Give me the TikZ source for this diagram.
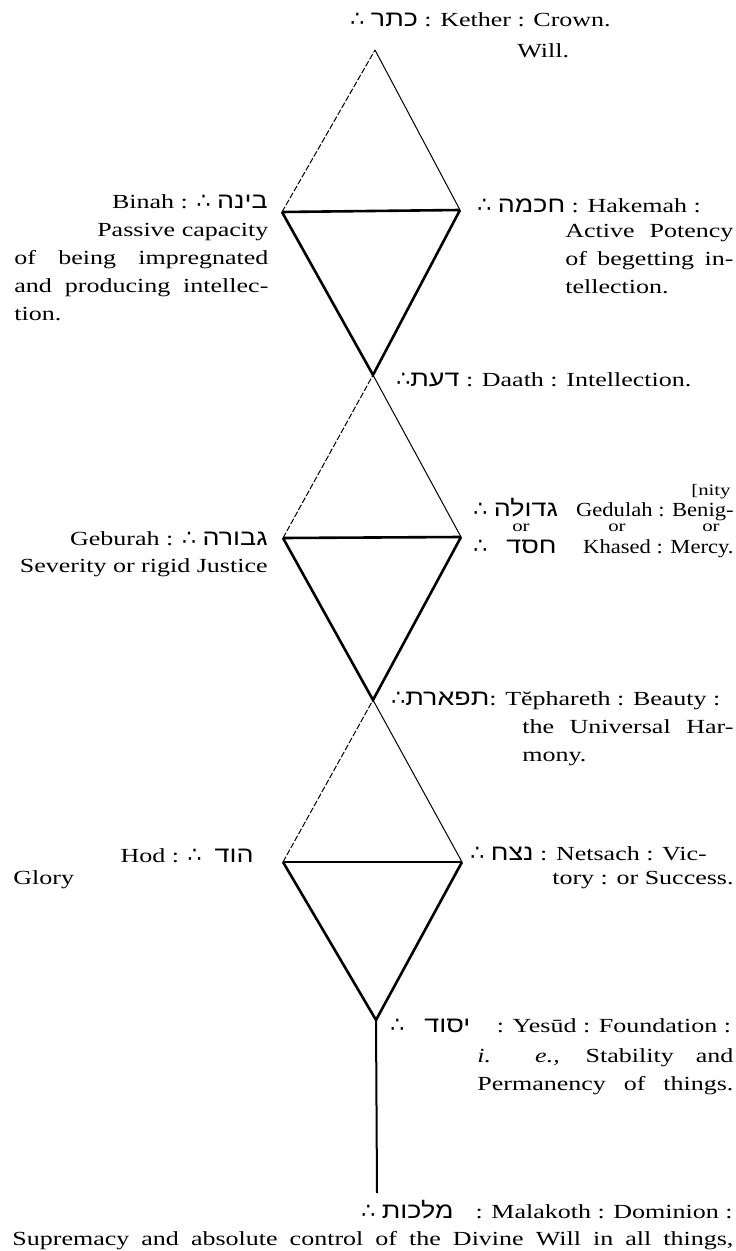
\documentclass[tikz,border=0pt]{standalone}
\usepackage{fontspec}
\setmainfont[FakeStretch=1.3]{Liberation Serif}
\newfontfamily\narrowfont[FakeStretch=1.13]{Liberation Serif}
\newfontfamily\hebfont[Script=Hebrew,FakeStretch=1.2,Scale=1.12]{Liberation Sans}
\newfontfamily\dotsfont[Scale=1.1]{DejaVu Sans}
\TeXXeTstate=1
\usetikzlibrary{positioning}

\newcommand{\heb}[1]{{\hebfont\beginR #1\endR}}
\newcommand{\tf}{{\dotsfont ∴}}

\begin{document}
\begin{tikzpicture}[
    x=0.5pt, y=-0.5pt,
    font=\fontsize{10}{14}\selectfont,
    every node/.style={inner sep=0pt},
    heavy/.style={line width=1.3pt, line join=miter},
    faint/.style={line width=0.5pt},
    faintdash/.style={line width=0.5pt, dash pattern=on 3pt off 1pt},
    stem/.style={line width=1pt},
    lbl/.style={anchor=base west},
    lblr/.style={anchor=base east},
    small/.style={anchor=base, font=\fontsize{8}{10}\selectfont},
]
\useasboundingbox (0,0) rectangle (735,1251);

% ── Sephiroth points ──
\coordinate (kether)    at (375,50);
\coordinate (binah)     at (282,212);
\coordinate (chokmah)   at (460,210);
\coordinate (daath)     at (373,375);
\coordinate (geburah)   at (283,538);
\coordinate (chesed)    at (461,537);
\coordinate (tiphareth) at (373,700);
\coordinate (hod)       at (283,862);
\coordinate (netsach)   at (462,862);
\coordinate (yesod)     at (376,1020);
\coordinate (malkuth)   at (377,1193);

% ── Triangles ──
\draw[faintdash] (binah) -- (kether);
\draw[faint] (kether) -- (chokmah);
\draw[heavy] (binah) -- (chokmah);
\draw[heavy] (binah) -- (daath) -- (chokmah);

\draw[faintdash] (geburah) -- (daath);
\draw[faint] (daath) -- (chesed);
\draw[heavy] (geburah) -- (chesed);
\draw[heavy] (geburah) -- (tiphareth) -- (chesed);

\draw[faintdash] (hod) -- (tiphareth);
\draw[faint] (tiphareth) -- (netsach);
\draw[heavy] (hod) -- (netsach);
\draw[heavy] (hod) -- (yesod) -- (netsach);

\draw[stem] (yesod) -- (malkuth);

% ── Kether ──
\node[lbl] (ketherlbl) at (350,27) {\tf\ \heb{כתר} : Kether : Crown.};
\node[lbl] (willlbl) at (517,58) {Will.};

% ── Binah / Hakemah ──
\node[lblr] (binahlbl) at (268,209) {Binah : \tf\ \heb{בינה}};
\node[lbl] (binahtxt) at (14,237) {\parbox[t]{127pt}{\hfill Passive capacity\linebreak
  of being impregnated\linebreak and producing intellec-\linebreak tion.}};
\node[lbl] (chokmahlbl) at (477,213) {\tf\ \heb{חכמה} : Hakemah :};
\node[lbl] (chokmahtxt) at (565,238) {\parbox[t]{84pt}{Active Potency\linebreak
  of begetting in-\linebreak tellection.}};

% ── Daath ──
\node[lbl] (daathlbl) at (396,386) {\tf\heb{דעת} : Daath : Intellection.};

% ── Geburah / Gedulah ──
\node[lblr] (geburahlbl) at (268,545) {Geburah : \tf\ \heb{גבורה}};
\node[lblr] (geburahtxt) at (268,572) {Severity or rigid Justice};
\node[small, anchor=base east] (nitylbl) at (731,495) {[nity};
\node[lbl] (gedulahheb) at (473,516) {\tf\ \heb{גדולה}};
\node[lblr] (gedulahlbl) at (734,516) {\narrowfont Gedulah : Benig-};
\node[small] (or1) at (521,531) {or};
\node[small] (or2) at (617,531) {or};
\node[small] (or3) at (711,531) {or};
\node[lbl] (chesedtf) at (473,553) {\tf};
\node[lblr] (chesedheb) at (557,553) {\heb{חסד}};
\node[lblr] (chesedlbl) at (734,553) {\narrowfont Khased : Mercy.};

% ── Tiphareth ──
\node[lbl] (tipharethlbl) at (391,705) {\tf\heb{תפארת}: Tĕphareth : Beauty :};
\node[lbl] (tipharethtxt) at (522,733) {\parbox[t]{105.5pt}{the Universal Har-\linebreak mony.}};

% ── Hod / Netsach ──
\node[lblr] (hodlbl) at (254,862) {Hod : \tf\ \ \heb{הוד}};
\node[lbl] (hodtxt) at (13,884) {Glory};
\node[lbl] (netsachlbl) at (470,860) {\tf\ \heb{נצח} : Netsach : Vic-};
\node[lblr] (netsachtxt) at (734,884) {tory : or Success.};

% ── Yesod ──
\node[lbl] (yesodlbl) at (390,1032) {\tf\quad\heb{יסוד}\quad\ : Yesūd : Foundation :};
\node[lbl] (yesodtxt) at (477,1062) {\parbox[t]{128pt}{\parfillskip=0pt
  \textit{i.}\ \ \textit{e.,} Stability and\linebreak Permanency of things.}};

% ── Malkuth ──
\node[lbl] (malkuthheb) at (361,1218) {\tf\ \heb{מלכות}};
\node[lblr] (malkuthlbl) at (733,1218) {: Malakoth : Dominion :};
\node[lbl] (malkuthtxt) at (12,1245) {\makebox[360.5pt][s]{Supremacy and absolute control of the Divine Will in all things,}};

\end{tikzpicture}
\end{document}
